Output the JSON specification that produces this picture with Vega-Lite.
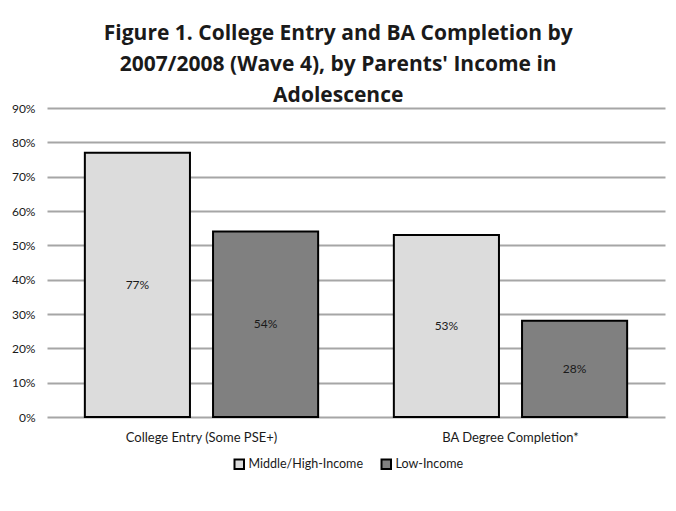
{
  "$schema": "https://vega.github.io/schema/vega-lite/v6.json",
  "width": 618,
  "height": 309,
  "padding": {"left": 11, "top": 23, "right": 13, "bottom": 5},
  "background": "white",
  "title": {
    "text": ["Figure 1. College Entry and BA Completion by", "2007/2008 (Wave 4), by Parents' Income in", "Adolescence"],
    "font": "Open Sans",
    "fontSize": 21,
    "fontWeight": "bold",
    "lineHeight": 31,
    "color": "#1a1a1a",
    "anchor": "middle",
    "frame": "bounds",
    "offset": -4
  },
  "data": {
    "values": [
      {"measure": "College Entry (Some PSE+)", "income": "Middle/High-Income", "value": 0.77, "label": "77%"},
      {"measure": "College Entry (Some PSE+)", "income": "Low-Income", "value": 0.54, "label": "54%"},
      {"measure": "BA Degree Completion*", "income": "Middle/High-Income", "value": 0.53, "label": "53%"},
      {"measure": "BA Degree Completion*", "income": "Low-Income", "value": 0.28, "label": "28%"}
    ]
  },
  "encoding": {
    "x": {
      "field": "measure",
      "type": "nominal",
      "sort": ["College Entry (Some PSE+)", "BA Degree Completion*"],
      "scale": {"paddingInner": 0.245, "paddingOuter": 0.1225},
      "axis": {
        "title": null,
        "labelAngle": 0,
        "domain": false,
        "ticks": false,
        "labelPadding": 14,
        "labelFont": "Lato",
        "labelFontSize": 13,
        "labelColor": "#1a1a1a"
      }
    },
    "xOffset": {
      "field": "income",
      "type": "nominal",
      "sort": ["Middle/High-Income", "Low-Income"],
      "scale": {"paddingInner": 0.18, "paddingOuter": 0}
    }
  },
  "layer": [
    {
      "mark": {"type": "bar", "stroke": "black", "strokeWidth": 2},
      "encoding": {
        "y": {
          "field": "value",
          "type": "quantitative",
          "scale": {"domain": [0, 0.9], "nice": false},
          "axis": {
            "title": null,
            "format": ".0%",
            "values": [0, 0.1, 0.2, 0.3, 0.4, 0.5, 0.6, 0.7, 0.8, 0.9],
            "domain": false,
            "ticks": false,
            "labelPadding": 12,
            "labelFont": "Lato",
            "labelFontSize": 12,
            "labelColor": "#1a1a1a",
            "gridColor": "#a6a6a6",
            "gridWidth": 2,
            "gridOpacity": 1
          }
        },
        "fill": {
          "field": "income",
          "type": "nominal",
          "sort": ["Middle/High-Income", "Low-Income"],
          "scale": {"domain": ["Middle/High-Income", "Low-Income"], "range": ["#dcdcdc", "#808080"]},
          "legend": {
            "title": null,
            "orient": "none",
            "legendX": 186,
            "legendY": 350,
            "direction": "horizontal",
            "symbolType": "square",
            "symbolSize": 90,
            "symbolStrokeColor": "black",
            "symbolStrokeWidth": 2,
            "labelFont": "Lato",
            "labelFontSize": 12.5,
            "labelColor": "#1a1a1a",
            "labelOffset": 3,
            "columnPadding": 14
          }
        }
      }
    },
    {
      "transform": [{"calculate": "datum.value / 2", "as": "mid"}],
      "mark": {"type": "text", "font": "Lato", "fontSize": 12, "color": "#1a1a1a", "baseline": "middle"},
      "encoding": {
        "y": {
          "field": "mid",
          "type": "quantitative",
          "axis": {
            "title": null,
            "format": ".0%",
            "values": [0, 0.1, 0.2, 0.3, 0.4, 0.5, 0.6, 0.7, 0.8, 0.9],
            "domain": false,
            "ticks": false,
            "labelPadding": 12,
            "labelFont": "Lato",
            "labelFontSize": 12,
            "labelColor": "#1a1a1a",
            "gridColor": "#a6a6a6",
            "gridWidth": 2,
            "gridOpacity": 1
          }
        },
        "text": {"field": "label"}
      }
    }
  ],
  "config": {
    "view": {"stroke": null}
  }
}
